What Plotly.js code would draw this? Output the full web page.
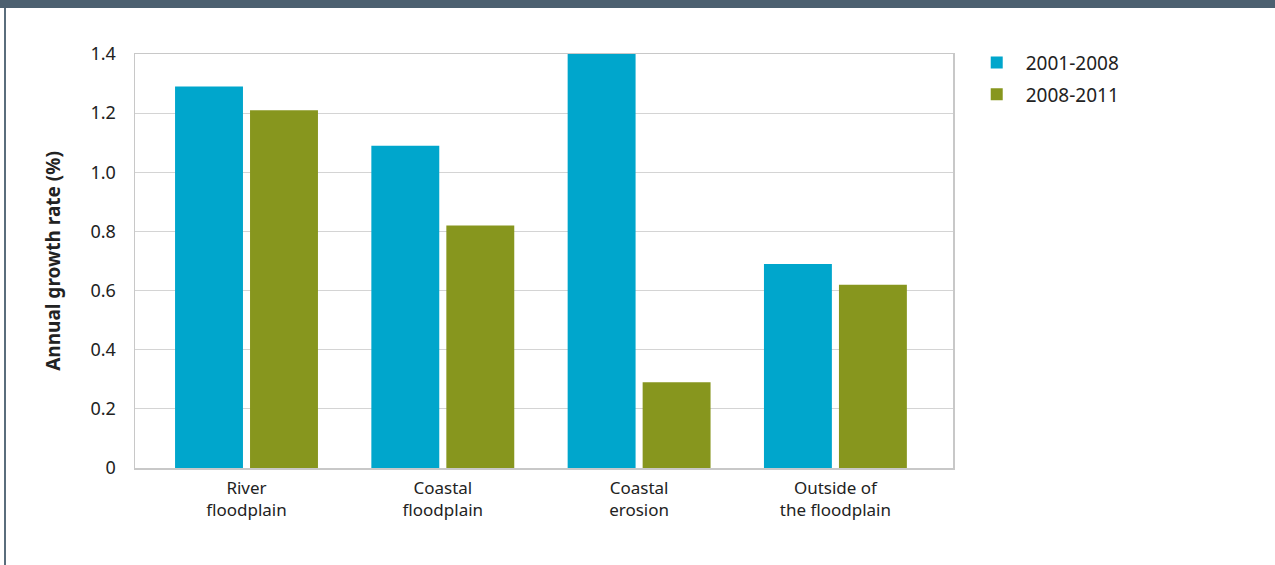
<!DOCTYPE html>
<html>
<head>
<meta charset="utf-8">
<script src="https://cdn.plot.ly/plotly-3.0.1.min.js"></script>
<style>
  html, body { margin: 0; padding: 0; background: #fff; }
  #wrap { position: relative; width: 1275px; height: 565px; overflow: hidden; }
  #chart { position: absolute; left: 0; top: 0; width: 1275px; height: 565px; }
  #topband { position: absolute; left: 0; top: 0; width: 1275px; height: 8px; background: #4c6070; pointer-events: none; }
  #leftline { position: absolute; left: 4px; top: 8px; width: 2px; height: 557px; background: #5a6d7c; pointer-events: none; }
</style>
</head>
<body>
<div id="wrap">
  <div id="chart"></div>
  <div id="topband"></div>
  <div id="leftline"></div>
</div>
<script>
const categories = ["River<br>floodplain", "Coastal<br>floodplain", "Coastal<br>erosion", "Outside of<br>the floodplain"];
const series1Name = "2001-2008";
const series2Name = "2008-2011";
const series1 = [1.29, 1.09, 1.40, 0.69];
const series2 = [1.21, 0.82, 0.29, 0.62];
const yTickVals = [0, 0.2, 0.4, 0.6, 0.8, 1.0, 1.2, 1.4];
const yTickText = ["0", "0.2", "0.4", "0.6", "0.8", "1.0", "1.2", "1.4"];

const FONT = "Noto Sans, Open Sans, sans-serif";

const traces = [
  { type: "bar", name: series1Name, legendgroup: "g1", x: categories, y: series1,
    marker: { color: "#00a6cc" }, width: 0.346, offset: -0.364, hoverinfo: "none" },
  { type: "bar", name: series2Name, legendgroup: "g2", x: categories, y: series2,
    marker: { color: "#87961e" }, width: 0.346, offset: 0.018, hoverinfo: "none" }
];

const layout = {
  width: 1275, height: 565,
  margin: { l: 135, r: 322, t: 54, b: 97, pad: 0 },
  paper_bgcolor: "#ffffff", plot_bgcolor: "#ffffff",
  font: { family: FONT, size: 18, color: "#222222" },
  barmode: "overlay",
  showlegend: true,
  legend: { x: 1.018, xanchor: "left", y: 1.025, yanchor: "top",
            font: { family: FONT, size: 19, color: "#222" },
            itemwidth: 48, tracegroupgap: 4, bgcolor: "rgba(0,0,0,0)" },
  xaxis: {
    type: "category", range: [-0.568, 3.599],
    showline: true, mirror: true, linecolor: "#c8c8c8", linewidth: 1.5,
    showgrid: false, ticks: "", ticklabelstandoff: 4,
    tickfont: { family: FONT, size: 17, color: "#222" },
    fixedrange: true
  },
  yaxis: {
    range: [0, 1.4], tickvals: yTickVals, ticktext: yTickText,
    showline: true, mirror: true, linecolor: "#c8c8c8", linewidth: 1.5,
    showgrid: true, gridcolor: "#d4d4d4", gridwidth: 1, zeroline: false,
    ticks: "", ticklabelstandoff: 14,
    tickfont: { family: FONT, size: 18, color: "#222" },
    title: { text: "<b>Annual growth rate (%)</b>", font: { family: FONT, size: 19, color: "#222" }, standoff: 25 },
    fixedrange: true
  }
};

Plotly.newPlot("chart", traces, layout, { displayModeBar: false, staticPlot: true });
</script>
</body>
</html>
